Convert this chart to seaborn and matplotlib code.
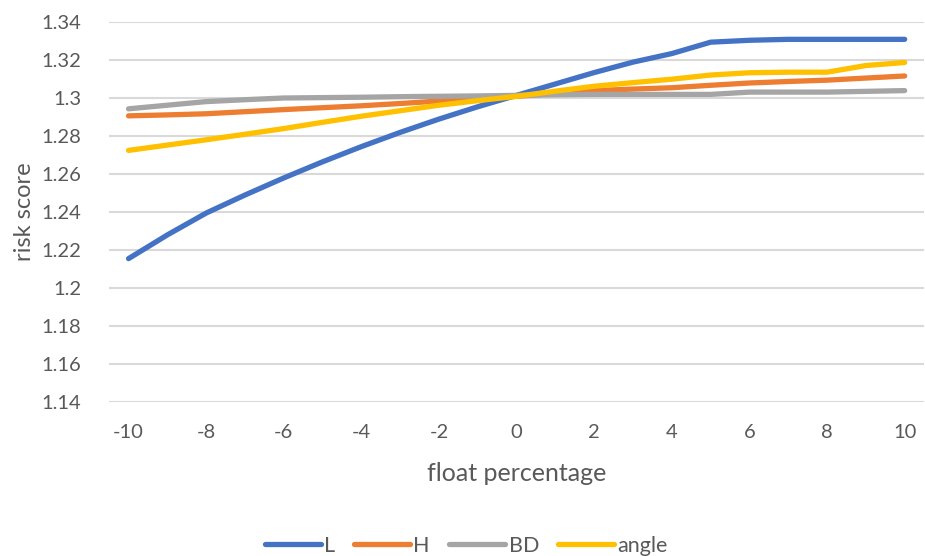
import matplotlib
matplotlib.use("Agg")
import matplotlib.pyplot as plt
import seaborn as sns
import pandas as pd

x_vals = [-10, -9, -8, -7, -6, -5, -4, -3, -2, -1, 0, 1, 2, 3, 4, 5, 6, 7, 8, 9, 10]
L = [1.2155, 1.2280, 1.2395, 1.2490, 1.2580, 1.2665, 1.2745, 1.2820, 1.2890, 1.2955, 1.3015,
     1.3075, 1.3135, 1.3190, 1.3235, 1.3295, 1.3305, 1.3310, 1.3310, 1.3310, 1.3310]
H = [1.2907, 1.2912, 1.2918, 1.2929, 1.2940, 1.2950, 1.2960, 1.2972, 1.2985, 1.2998, 1.3010,
     1.3025, 1.3040, 1.3048, 1.3055, 1.3068, 1.3080, 1.3088, 1.3095, 1.3106, 1.3117]
BD = [1.2944, 1.2963, 1.2982, 1.2992, 1.3001, 1.3003, 1.3005, 1.3008, 1.3010, 1.3012, 1.3015,
      1.3018, 1.3020, 1.3020, 1.3020, 1.3020, 1.3032, 1.3032, 1.3032, 1.3036, 1.3040]
angle = [1.2725, 1.2753, 1.2781, 1.2810, 1.2840, 1.2873, 1.2905, 1.2934, 1.2963, 1.2987, 1.3010,
         1.3037, 1.3063, 1.3082, 1.3100, 1.3122, 1.3134, 1.3137, 1.3137, 1.3172, 1.3188]
series_names = ["L", "H", "BD", "angle"]
colors = ["#4472C4", "#ED7D31", "#A5A5A5", "#FFC000"]
y_ticks = [1.14, 1.16, 1.18, 1.2, 1.22, 1.24, 1.26, 1.28, 1.3, 1.32, 1.34]
y_ticklabels = ["1.14", "1.16", "1.18", "1.2", "1.22", "1.24", "1.26", "1.28", "1.3", "1.32", "1.34"]
x_ticks = [-10, -8, -6, -4, -2, 0, 2, 4, 6, 8, 10]

df = pd.DataFrame({
    "float percentage": x_vals * 4,
    "risk score": L + H + BD + angle,
    "series": sum([[n] * len(x_vals) for n in series_names], []),
})

sns.set_theme(style="white")
plt.rcParams["font.family"] = ["Lato", "DejaVu Sans"]
text_color = "#595959"

fig = plt.figure(figsize=(9.25, 5.56), dpi=100)
ax = fig.add_axes([0.118, 0.277, 0.881, 0.683])

sns.lineplot(data=df, x="float percentage", y="risk score", hue="series",
             hue_order=series_names, palette=colors, linewidth=3.8, ax=ax,
             legend=False, solid_capstyle="round")

ax.set_xlim(-10.5, 10.5)
ax.set_ylim(1.14, 1.34)
ax.set_yticks(y_ticks)
ax.set_yticklabels(y_ticklabels)
ax.set_xticks(x_ticks)
ax.set_xticklabels([str(v) for v in x_ticks])
ax.yaxis.grid(True, color="#D9D9D9", linewidth=1.5)
ax.set_axisbelow(True)
for s in ax.spines.values():
    s.set_visible(False)
ax.tick_params(axis="both", length=0, labelsize=14.5, colors=text_color)
ax.tick_params(axis="y", pad=20)
ax.tick_params(axis="x", pad=16)
ax.set_xlabel("float percentage", fontsize=18, color=text_color, labelpad=15)
ax.set_ylabel("risk score", fontsize=17, color=text_color, labelpad=5)
for line in ax.lines:
    line.set_clip_on(False)

handles = [plt.Line2D([], [], color=c, linewidth=3.8, solid_capstyle="round") for c in colors]
fig.legend(handles, series_names, loc="center", bbox_to_anchor=(0.504, 1 - 546 / 556),
           ncol=4, frameon=False, fontsize=15.5, handlelength=2.6, handletextpad=0.15,
           columnspacing=0.9, labelcolor=text_color)

fig.savefig("out.png", dpi=100)
